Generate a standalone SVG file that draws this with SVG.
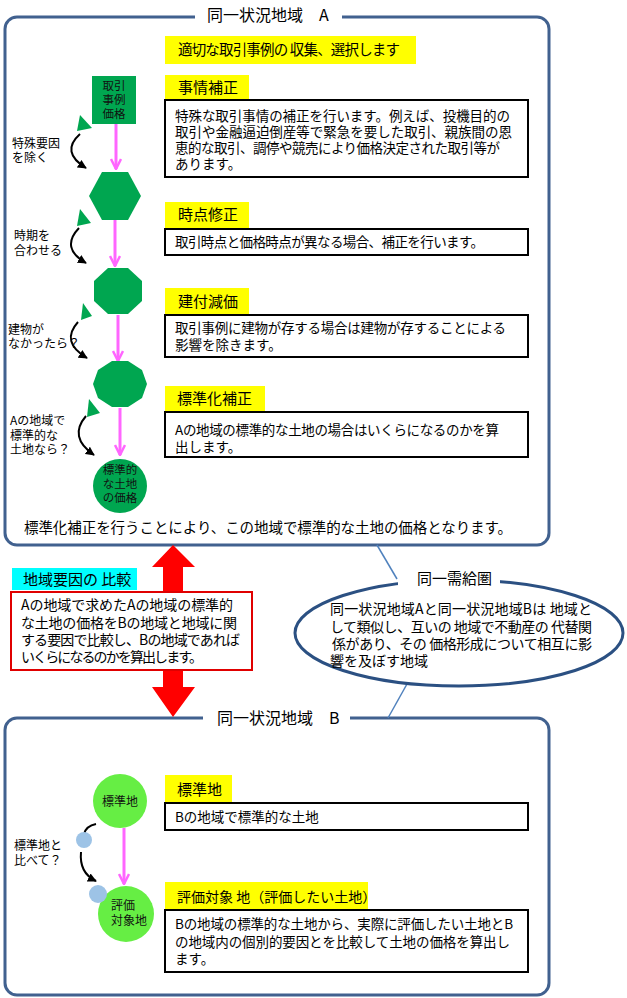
<svg xmlns="http://www.w3.org/2000/svg" width="627" height="998" viewBox="0 0 627 998">
<defs>
<style>
text{font-family:"Noto Sans CJK JP","Noto Sans",sans-serif;fill:#000}
.t14{font-size:13.5px}
.lbl{font-size:15px}
.sm{font-size:12px}
.nd{font-size:12px;fill:#111}
.frame{fill:none;stroke:#41618f;stroke-width:3}
.yel{fill:#ffff00}
.box{fill:#fff;stroke:#000;stroke-width:2}
.gA{fill:#00a650}
.gB{fill:#66ee44}
.bl{fill:#9dc3e6}
.pink{stroke:#ff66ff;stroke-width:3;fill:none;marker-end:url(#pk)}
.curv{stroke:#000;stroke-width:2;fill:none}
.link{stroke:#4f81bd;stroke-width:1.5;fill:none}
</style>
<marker id="pk" viewBox="0 0 12 12" refX="11" refY="6" markerWidth="12" markerHeight="12" markerUnits="userSpaceOnUse" orient="auto"><path d="M1,1 L11,6 L1,11" fill="none" stroke="#ff66ff" stroke-width="2.5"/></marker>
<marker id="bk" viewBox="0 0 10 10" refX="9" refY="5" markerWidth="9" markerHeight="9" markerUnits="userSpaceOnUse" orient="auto"><path d="M0,0 L10,5 L0,10 z" fill="#000"/></marker>
</defs>
<rect width="627" height="998" fill="#fff"/>

<g id="frameA">
<rect class="frame" x="5" y="17" width="544" height="528" rx="12"/>
<rect x="195" y="8" width="147" height="18" fill="#fff"/>
<text x="207" y="21" style="font-size:16px">同一状況地域　A</text>
</g>

<g id="frameB">
<rect class="frame" x="5" y="718" width="544" height="277" rx="12"/>
<rect x="203" y="708" width="147" height="18" fill="#fff"/>
<text x="217" y="724" style="font-size:16px">同一状況地域　B</text>
</g>

<g id="connectors">
<path class="pink" d="M116,124 V169"/>
<path class="pink" d="M115,220 V266"/>
<path class="pink" d="M118,315 V361"/>
<path class="pink" d="M120,408 V455"/>
<path class="pink" d="M124,828 V884"/>
<path class="curv" d="M80,134 Q60,152 86,168" marker-end="url(#bk)"/>
<path class="curv" d="M79,228 Q60,248 86,263" marker-end="url(#bk)"/>
<path class="curv" d="M78,322 Q60,342 87,358" marker-end="url(#bk)"/>
<path class="curv" d="M86,416 Q68,437 94,455" marker-end="url(#bk)"/>
<path class="curv" d="M96,824 Q86,826 84,834"/>
<path class="curv" d="M81,852 Q79,873 96,881" marker-end="url(#bk)"/>
<line class="link" x1="377" y1="545" x2="397" y2="579"/>
<line class="link" x1="407" y1="684" x2="388" y2="718"/>
<polygon id="redArrow" fill="#ff0000" points="173,545 195,567 183,567 183,687 195,687 173,717 152,687 163,687 163,567 152,567"/>
</g>

<g id="lead">
<rect class="yel" x="165" y="36" width="251" height="28"/>
<text class="lbl" x="178" y="55" style="font-size:14.5px" textLength="222">適切な取引事例の 収集、選択します</text>
</g>

<g id="node-torihiki">
<rect class="gA" x="92" y="76" width="44" height="48"/>
<text class="nd" text-anchor="middle" style="font-size:11.5px"><tspan x="114" y="90">取引</tspan><tspan x="114" y="104">事例</tspan><tspan x="114" y="118">価格</tspan></text>
</g>
<g id="node-hex"><polygon class="gA" points="102,172 128,172 141,196 128,220 102,220 89,196"/></g>
<g id="node-oct"><polygon class="gA" points="142,281 128,268 108,268 94,281 94,301 108,314 128,314 142,301"/></g>
<g id="node-dec"><polygon class="gA" points="147,384 142,370 128,361 112,361 98,370 93,384 98,398 112,407 128,407 142,398"/></g>
<g id="node-std">
<circle class="gA" cx="120" cy="486" r="27"/>
<text class="nd" text-anchor="middle" style="font-size:11.5px"><tspan x="120" y="474">標準的</tspan><tspan x="120" y="488">な土地</tspan><tspan x="120" y="502">の価格</tspan></text>
</g>

<g id="step1">
<polygon class="gA" points="80,115 92,128 77,131"/>
<text class="sm"><tspan x="12" y="148">特殊要因</tspan><tspan x="12" y="162">を除く</tspan></text>
<rect class="yel" x="165" y="75" width="84" height="25"/>
<text class="lbl" x="178" y="93">事情補正</text>
<rect class="box" x="165" y="100" width="363" height="77"/>
<text class="t14"><tspan x="175" y="121" textLength="335">特殊な取引事情の補正を行います。例えば、投機目的の</tspan><tspan x="175" y="137" textLength="337">取引や金融逼迫倒産等で緊急を要した取引、親族間の恩</tspan><tspan x="175" y="153" textLength="325">恵的な取引、調停や競売により価格決定された取引等が</tspan><tspan x="175" y="169">あります。</tspan></text>
</g>

<g id="step2">
<polygon class="gA" points="80,209 91,223 77,226"/>
<text class="sm"><tspan x="14" y="240">時期を</tspan><tspan x="14" y="255">合わせる</tspan></text>
<rect class="yel" x="165" y="202" width="84" height="26"/>
<text class="lbl" x="178" y="220">時点修正</text>
<rect class="box" x="165" y="229" width="363" height="26"/>
<text class="t14" x="175" y="247" textLength="309">取引時点と価格時点が異なる場合、補正を行います。</text>
</g>

<g id="step3">
<polygon class="gA" points="83,303 92,316 81,320"/>
<text class="sm"><tspan x="8" y="334">建物が</tspan><tspan x="8" y="348">なかったら？</tspan></text>
<rect class="yel" x="165" y="288" width="84" height="27"/>
<text class="lbl" x="178" y="307">建付減価</text>
<rect class="box" x="165" y="315" width="363" height="42"/>
<text class="t14"><tspan x="175" y="333" textLength="331">取引事例に建物が存する場合は建物が存することによる</tspan><tspan x="175" y="350">影響を除きます。</tspan></text>
</g>

<g id="step4">
<polygon class="gA" points="89,399 100,413 87,417"/>
<text class="sm"><tspan x="10" y="425">Aの地域で</tspan><tspan x="10" y="440">標準的な</tspan><tspan x="10" y="454">土地なら？</tspan></text>
<rect class="yel" x="165" y="386" width="100" height="26"/>
<text class="lbl" x="177" y="404">標準化補正</text>
<rect class="box" x="165" y="412" width="363" height="45"/>
<text class="t14"><tspan x="175" y="435" textLength="324">Aの地域の標準的な土地の場合はいくらになるのかを算</tspan><tspan x="175" y="452">出します。</tspan></text>
</g>

<g id="summaryA">
<text x="24" y="533" style="font-size:14.5px" textLength="488">標準化補正を行うことにより、この地域で標準的な土地の価格となります。</text>
</g>

<g id="compare">
<rect x="12" y="568" width="125" height="22" fill="#00ffff"/>
<text class="lbl" x="23" y="585">地域要因の 比較</text>
<rect x="11" y="592" width="241" height="78" fill="#fff" stroke="#e00000" stroke-width="2"/>
<text style="font-size:14px"><tspan x="21" y="610" textLength="212">Aの地域で求めたAの地域の標準的</tspan><tspan x="21" y="628" textLength="216">な土地の価格をBの地域と地域に関</tspan><tspan x="21" y="645" textLength="219">する要因で比較し、Bの地域であれば</tspan><tspan x="21" y="662" textLength="182">いくらになるのかを算出します。</tspan></text>
</g>

<g id="jukyuken">
<ellipse cx="459" cy="633" rx="164" ry="53" fill="#fff" stroke="#2b5082" stroke-width="3"/>
<rect x="398" y="570" width="102" height="18" fill="#fff"/>
<text x="417" y="584" style="font-size:15px">同一需給圏</text>
<text style="font-size:14px"><tspan x="330" y="614" textLength="262">同一状況地域Aと同一状況地域Bは 地域と</tspan><tspan x="330" y="632" textLength="262">して類似し、互いの 地域で不動産の 代替関</tspan><tspan x="332" y="649" textLength="260">係があり、その 価格形成について相互に影</tspan><tspan x="330" y="666">響を及ぼす地域</tspan></text>
</g>

<g id="node-hyoujunchi">
<circle class="gB" cx="120" cy="801" r="27"/>
<text class="nd" x="120" y="806" text-anchor="middle">標準地</text>
</g>
<g id="node-taishochi">
<circle class="gB" cx="126" cy="914" r="28"/>
<text class="nd"><tspan x="111" y="910">評価</tspan><tspan x="111" y="925">対象地</tspan></text>
</g>
<g id="compareB">
<circle class="bl" cx="84" cy="840" r="8"/>
<circle class="bl" cx="98" cy="894" r="9"/>
<text class="sm"><tspan x="14" y="850">標準地と</tspan><tspan x="14" y="865">比べて？</tspan></text>
</g>

<g id="descB1">
<rect class="yel" x="165" y="775" width="67" height="28"/>
<text class="lbl" x="177" y="795">標準地</text>
<rect class="box" x="165" y="803" width="363" height="27"/>
<text class="t14" x="175" y="822">Bの地域で標準的な土地</text>
</g>
<g id="descB2">
<rect class="yel" x="165" y="882" width="203" height="28"/>
<text class="lbl" x="177" y="902" style="font-size:14px">評価対象 地（評価したい土地）</text>
<rect class="box" x="165" y="910" width="363" height="62"/>
<text class="t14"><tspan x="175" y="929" textLength="338">Bの地域の標準的な土地から、実際に評価したい土地とB</tspan><tspan x="175" y="947" textLength="335">の地域内の個別的要因とを比較して土地の価格を算出し</tspan><tspan x="175" y="964">ます。</tspan></text>
</g>
</svg>
